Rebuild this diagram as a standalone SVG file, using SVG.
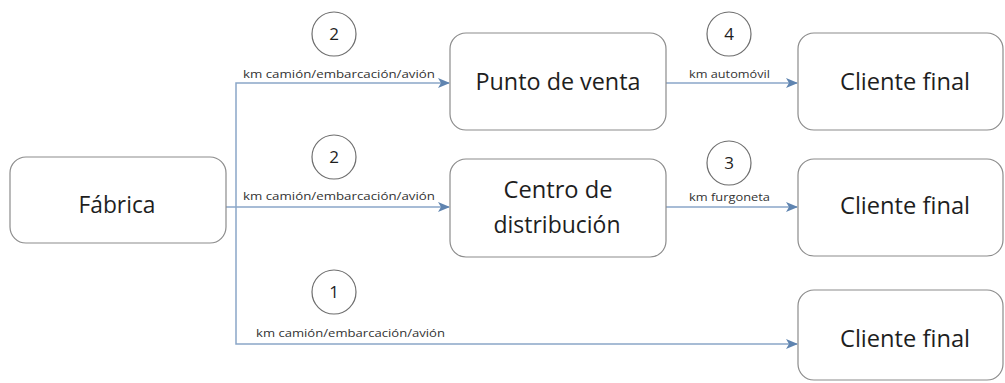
<svg xmlns="http://www.w3.org/2000/svg" width="1005" height="383" viewBox="0 0 1005 383">
<style>
.box{fill:#fff;stroke:#8c8c8c;stroke-width:1.2}
.circ{fill:#fff;stroke:#6e6e6e;stroke-width:1.2}
.lbl{font-family:"Open Sans","Liberation Sans",sans-serif;font-size:23px;fill:#1e1e1e;text-anchor:middle}
.num{font-family:"Open Sans","Liberation Sans",sans-serif;font-size:17px;fill:#1e1e1e;text-anchor:middle}
.small{font-family:"Open Sans","Liberation Sans",sans-serif;font-size:10.5px;fill:#333}
.conn{fill:none;stroke:#8aa6c8;stroke-width:1.5}
</style>
<defs>
<marker id="arr" markerWidth="12" markerHeight="10" refX="11" refY="5" orient="auto" markerUnits="userSpaceOnUse">
<path d="M0,0 L12,5 L0,10 L3,5 z" fill="#5f84b0"/>
</marker>
</defs>
<rect width="1005" height="383" fill="#fff"/>
<g id="connectors">
<path class="conn" d="M226,207 L449,207" marker-end="url(#arr)"/>
<path class="conn" d="M236,207 L236,83 L449,83" marker-end="url(#arr)"/>
<path class="conn" d="M236,207 L236,344 L797,344" marker-end="url(#arr)"/>
<path class="conn" d="M666,83 L797,83" marker-end="url(#arr)"/>
<path class="conn" d="M666,207 L797,207" marker-end="url(#arr)"/>
<text class="small" x="243" y="78" textLength="192" lengthAdjust="spacingAndGlyphs">km camión/embarcación/avión</text>
<text class="small" x="243" y="200" textLength="192" lengthAdjust="spacingAndGlyphs">km camión/embarcación/avión</text>
<text class="small" x="256" y="337" textLength="189" lengthAdjust="spacingAndGlyphs">km camión/embarcación/avión</text>
<text class="small" x="689" y="78" textLength="81" lengthAdjust="spacingAndGlyphs">km automóvil</text>
<text class="small" x="689" y="201" textLength="81" lengthAdjust="spacingAndGlyphs">km furgoneta</text>
</g>
<g id="badge-2a"><circle class="circ" cx="334" cy="34" r="22"/><text class="num" x="334" y="40">2</text></g>
<g id="badge-2b"><circle class="circ" cx="334" cy="157" r="22"/><text class="num" x="334" y="163">2</text></g>
<g id="badge-1"><circle class="circ" cx="334" cy="292" r="22"/><text class="num" x="334" y="298">1</text></g>
<g id="badge-4"><circle class="circ" cx="729" cy="34" r="22"/><text class="num" x="729" y="40">4</text></g>
<g id="badge-3"><circle class="circ" cx="729" cy="163" r="22"/><text class="num" x="729" y="169">3</text></g>
<g id="fabrica"><rect class="box" x="10" y="157" width="216" height="86" rx="16"/><text class="lbl" x="117" y="213" textLength="77" lengthAdjust="spacingAndGlyphs">Fábrica</text></g>
<g id="punto-venta"><rect class="box" x="450" y="33" width="216" height="97" rx="16"/><text class="lbl" x="558" y="90" textLength="165" lengthAdjust="spacingAndGlyphs">Punto de venta</text></g>
<g id="centro-distribucion"><rect class="box" x="450" y="159" width="216" height="98" rx="16"/><text class="lbl" x="558" y="198" textLength="109" lengthAdjust="spacingAndGlyphs">Centro de</text><text class="lbl" x="557" y="233" textLength="127" lengthAdjust="spacingAndGlyphs">distribución</text></g>
<g id="cliente-1"><rect class="box" x="798" y="33" width="205" height="97" rx="16"/><text class="lbl" x="905" y="90" textLength="130" lengthAdjust="spacingAndGlyphs">Cliente final</text></g>
<g id="cliente-2"><rect class="box" x="798" y="159" width="205" height="97" rx="16"/><text class="lbl" x="905" y="214" textLength="130" lengthAdjust="spacingAndGlyphs">Cliente final</text></g>
<g id="cliente-3"><rect class="box" x="798" y="290" width="205" height="90" rx="16"/><text class="lbl" x="905" y="347" textLength="130" lengthAdjust="spacingAndGlyphs">Cliente final</text></g>
</svg>
